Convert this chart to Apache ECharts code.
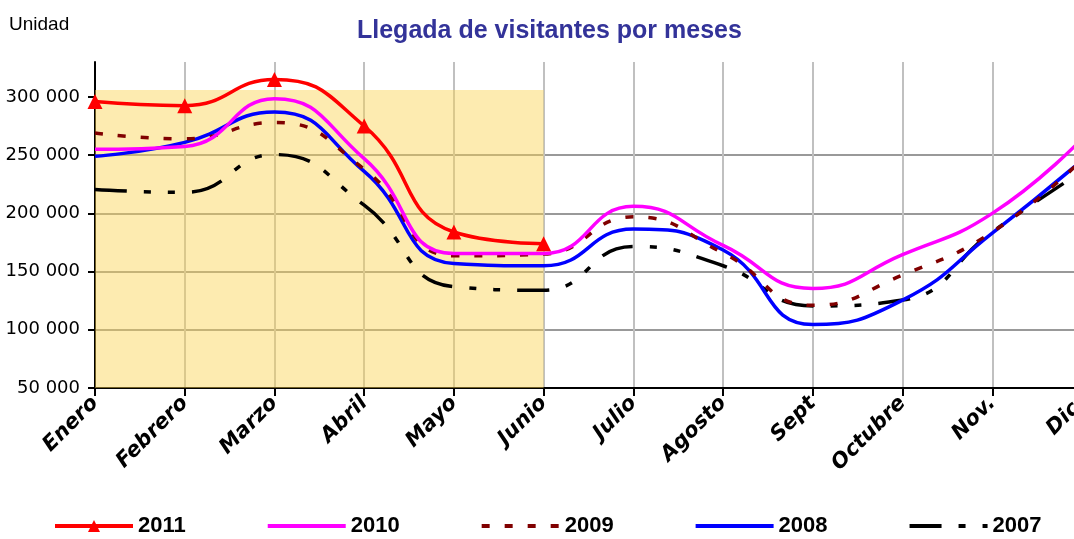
<!DOCTYPE html>
<html>
<head>
<meta charset="utf-8">
<script src="https://cdn.jsdelivr.net/npm/echarts@6/dist/echarts.min.js"></script>
<style>
  html, body { margin: 0; padding: 0; background: #fff; }
  #main { width: 1074px; height: 539px; }
</style>
</head>
<body>
<div id="main"></div>
<script>
// meses del eje x
var meses = ['Enero', 'Febrero', 'Marzo', 'Abril', 'Mayo', 'Junio', 'Julio', 'Agosto', 'Sept', 'Octubre', 'Nov.', 'Dic.'];

// llegadas de visitantes por año
var v2011 = [296000, 292500, 315000, 275000, 184000, 174000, null, null, null, null, null, null];
var v2010 = [255000, 257500, 298500, 247000, 165500, 165500, 206000, 172500, 135500, 164500, 200000, 264000];
var v2009 = [269000, 264000, 278000, 238000, 163500, 165000, 197000, 166000, 121000, 147000, 184000, 246000];
var v2008 = [249000, 261000, 287000, 236000, 157000, 155000, 186500, 168500, 104500, 125500, 183000, 245500];
var v2007 = [220500, 218000, 250500, 207000, 137000, 134000, 171500, 155000, 120500, 125500, 184000, 236000];

// marcas del eje y
var ticksY = [50000, 100000, 150000, 200000, 250000, 300000];

// zona sombreada (primer semestre)
var zonaInicio = 'Enero';
var zonaFin = 'Junio';
var zonaTecho = 306000;

var myChart = echarts.init(document.getElementById('main'));

function miles(v) {
  return String(v).replace(/\B(?=(\d{3})+(?!\d))/g, ' ');
}

var sinSimbolo = { opacity: 0 };

var option = {
  animation: false,
  title: [
    {
      text: 'Unidad',
      left: 9, top: 15, padding: 0,
      textStyle: { fontFamily: 'Liberation Sans', fontSize: 19, fontWeight: 'normal', color: '#000' }
    },
    {
      text: 'Llegada de visitantes por meses',
      left: 357, top: 19, padding: 0,
      textStyle: { fontFamily: 'Liberation Sans', fontSize: 25, fontWeight: 'bold', color: '#333399' }
    }
  ],
  legend: {
    data: [
      { name: '2011' },
      { name: '2010', itemStyle: sinSimbolo },
      { name: '2009', itemStyle: sinSimbolo },
      { name: '2008', itemStyle: sinSimbolo },
      { name: '2007', itemStyle: sinSimbolo }
    ],
    left: 53,
    top: 515,
    padding: 0,
    itemWidth: 78,
    itemHeight: 15,
    itemGap: 80,
    lineStyle: { width: 4 },
    textStyle: { fontFamily: 'Liberation Sans', fontSize: 22, fontWeight: 'bold', color: '#000' }
  },
  grid: { left: 95, right: -8, top: 62, bottom: 151, outerBoundsMode: 'none' },
  xAxis: {
    type: 'category',
    boundaryGap: false,
    data: meses,
    axisLine: { lineStyle: { color: '#000', width: 2 } },
    axisTick: { show: true, length: 8, lineStyle: { color: '#000', width: 2 } },
    axisLabel: {
      rotate: 45, margin: 12, interval: 0,
      fontFamily: 'DejaVu Sans', fontSize: 21, fontWeight: 'bold', fontStyle: 'italic', color: '#000'
    },
    splitLine: { show: true, lineStyle: { color: '#c0c0c0', width: 2 } }
  },
  yAxis: {
    type: 'value',
    min: 50000,
    max: 330000,
    interval: 50000,
    axisLine: { show: true, lineStyle: { color: '#000', width: 2 } },
    axisTick: { show: true, length: 7, customValues: ticksY, lineStyle: { color: '#000', width: 2 } },
    axisLabel: {
      margin: 15,
      fontFamily: 'DejaVu Sans', fontSize: 18, color: '#000',
      formatter: function (v) { return v > 300000 ? '' : miles(v); }
    },
    splitLine: { show: true, showMaxLine: false, lineStyle: { color: '#999', width: 2 } }
  },
  series: [
    {
      name: 'zona',
      type: 'line',
      data: [],
      z: 1,
      markArea: {
        silent: true,
        itemStyle: { color: 'rgba(250, 210, 80, 0.45)' },
        data: [[{ xAxis: zonaInicio, yAxis: 50000 }, { xAxis: zonaFin, yAxis: zonaTecho }]]
      }
    },
    {
      name: '2007', type: 'line', smooth: true, symbol: 'none', z: 3,
      data: v2007,
      itemStyle: { color: '#000' },
      lineStyle: { color: '#000', width: 3.5, type: [32, 17, 7, 17, 7, 17] }
    },
    {
      name: '2008', type: 'line', smooth: true, symbol: 'none', z: 3,
      data: v2008,
      itemStyle: { color: '#0000ff' },
      lineStyle: { color: '#0000ff', width: 3.5 }
    },
    {
      name: '2009', type: 'line', smooth: true, symbol: 'none', z: 3,
      data: v2009,
      itemStyle: { color: '#800000' },
      lineStyle: { color: '#800000', width: 3.5, type: [8, 15] }
    },
    {
      name: '2010', type: 'line', smooth: true, symbol: 'none', z: 3,
      data: v2010,
      itemStyle: { color: '#ff00ff' },
      lineStyle: { color: '#ff00ff', width: 3.5 }
    },
    {
      name: '2011', type: 'line', smooth: true, z: 4,
      symbol: 'triangle', symbolSize: 15, showSymbol: true,
      data: v2011,
      itemStyle: { color: '#ff0000' },
      lineStyle: { color: '#ff0000', width: 3.5 }
    }
  ]
};

myChart.setOption(option);
</script>
</body>
</html>
